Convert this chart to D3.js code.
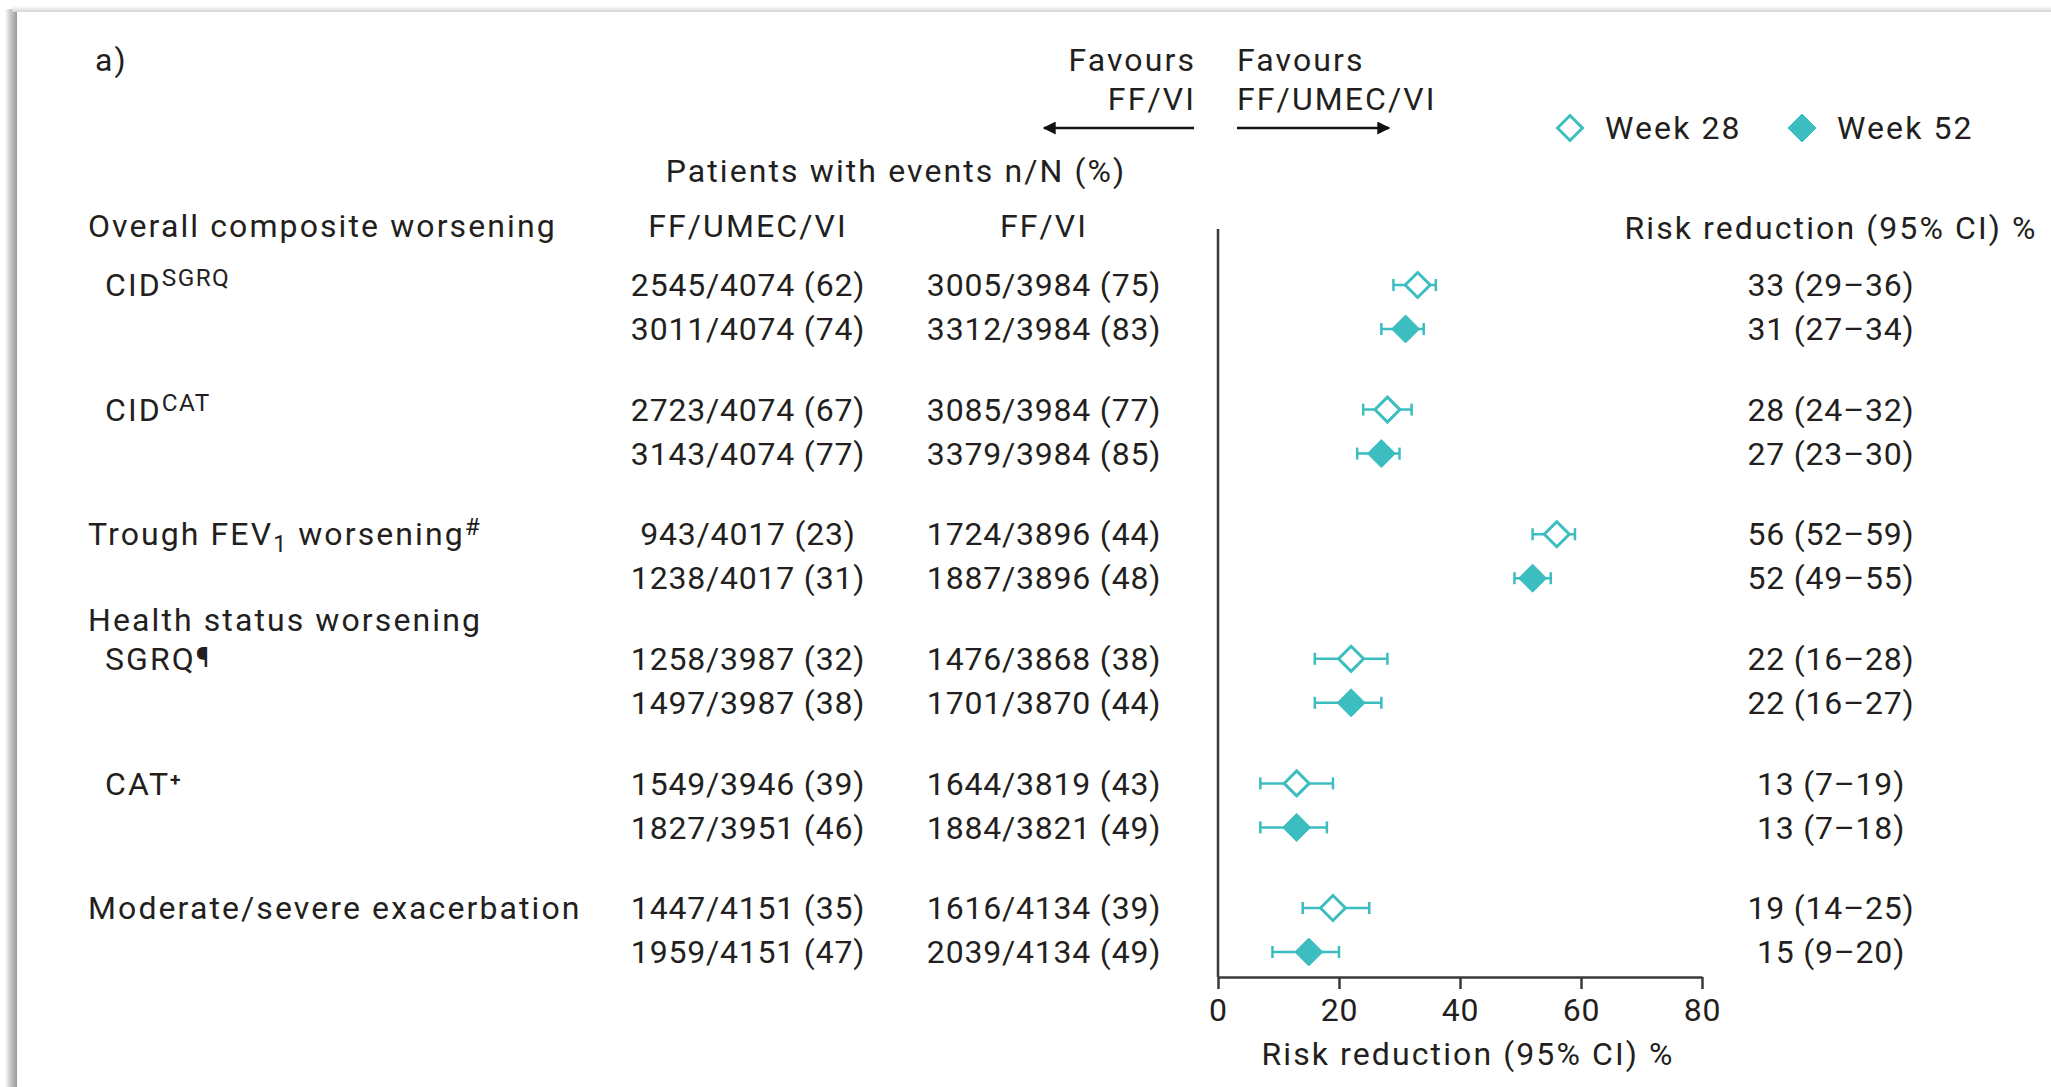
<!DOCTYPE html>
<html><head><meta charset="utf-8">
<script src="https://cdn.jsdelivr.net/npm/d3@7"></script>
<style>html,body{margin:0;padding:0;background:#fff;overflow:hidden}</style>
</head><body>
<svg id="chart" width="2051" height="1087"></svg>
<script>
// ---------------- DATA ----------------
const groups = ["CID_SGRQ", "CID_CAT", "FEV1", "SGRQ", "CAT", "EXAC"];
const weeks = ["Week 28", "Week 52"];
const rowGroup = ["CID_SGRQ","CID_SGRQ","CID_CAT","CID_CAT","FEV1","FEV1","SGRQ","SGRQ","CAT","CAT","EXAC","EXAC"];
const rowWeek  = ["Week 28","Week 52","Week 28","Week 52","Week 28","Week 52","Week 28","Week 52","Week 28","Week 52","Week 28","Week 52"];
const umecEvents = ["2545/4074 (62)","3011/4074 (74)","2723/4074 (67)","3143/4074 (77)","943/4017 (23)","1238/4017 (31)","1258/3987 (32)","1497/3987 (38)","1549/3946 (39)","1827/3951 (46)","1447/4151 (35)","1959/4151 (47)"];
const fvEvents   = ["3005/3984 (75)","3312/3984 (83)","3085/3984 (77)","3379/3984 (85)","1724/3896 (44)","1887/3896 (48)","1476/3868 (38)","1701/3870 (44)","1644/3819 (43)","1884/3821 (49)","1616/4134 (39)","2039/4134 (49)"];
const riskReduction = [33, 31, 28, 27, 56, 52, 22, 22, 13, 13, 19, 15];
const ciLow  = [29, 27, 24, 23, 52, 49, 16, 16, 7, 7, 14, 9];
const ciHigh = [36, 34, 32, 30, 59, 55, 28, 27, 19, 18, 25, 20];
const xTicks = [0, 20, 40, 60, 80];
const groupLabels = [
  [{t:"CID"},{t:"SGRQ", sup:true}],
  [{t:"CID"},{t:"CAT", sup:true}],
  [{t:"Trough FEV"},{t:"1", sub:true},{t:" worsening"},{t:"#", sup:true}],
  [{t:"SGRQ"},{t:"¶", pil:true}],
  [{t:"CAT"},{t:"+", plus:true}],
  [{t:"Moderate/severe exacerbation"}]
];
const groupIndented = [true, true, false, true, true, false];

// ---------------- LAYOUT ----------------
const W = 2051, H = 1087;
const FONT = "Roboto, 'Open Sans', sans-serif";
const FS = 32;
const LS_TEXT = 2.1, LS_NUM = 0.8;
const TEXT = "#231f20";
const TEAL = "#3cbdbf";
const AXIS = "#3a3a3a";
const plotTop = 229, plotBottom = 977;
const weekOffset = 44;
const colUmec = 748, colFv = 1044, colRR = 1831;
const labelX0 = 88, labelX1 = 105;

const svg = d3.select("#chart");
const defs = svg.append("defs");

// frame shadow
const gL = defs.append("linearGradient").attr("id","shL").attr("x1",0).attr("x2",1).attr("y1",0).attr("y2",0);
gL.append("stop").attr("offset",0).attr("stop-color","#fff");
gL.append("stop").attr("offset",0.45).attr("stop-color","#c8c8c8");
gL.append("stop").attr("offset",1).attr("stop-color","#9a9a9a");
const gT = defs.append("linearGradient").attr("id","shT").attr("x1",0).attr("x2",0).attr("y1",0).attr("y2",1);
gT.append("stop").attr("offset",0).attr("stop-color","#fff");
gT.append("stop").attr("offset",1).attr("stop-color","#d4d4d4");
svg.append("rect").attr("x",0).attr("y",0).attr("width",W).attr("height",H).attr("fill","#fff");
svg.append("rect").attr("x",5).attr("y",9).attr("width",12).attr("height",H-9).attr("fill","url(#shL)");
svg.append("rect").attr("x",12).attr("y",6).attr("width",W-12).attr("height",6).attr("fill","url(#shT)");
svg.append("rect").attr("x",17).attr("y",12).attr("width",W-17).attr("height",H-12).attr("fill","#fff");

// scales
const x = d3.scaleLinear().domain([0, 80]).range([1218, 1702]);
const yG = d3.scalePoint().domain(groups).range([285, 908]);
const yRow = i => yG(rowGroup[i]) + (rowWeek[i] === weeks[1] ? weekOffset : 0);

const txt = (xx, yy, s, anchor="start", ls=LS_TEXT) => svg.append("text")
  .attr("x", xx).attr("y", yy).attr("dy","0.35em")
  .attr("text-anchor", anchor).attr("font-family", FONT).attr("font-size", FS)
  .attr("letter-spacing", ls).attr("fill", TEXT).text(s);

// title, favours, legend
txt(95, 60, "a)");
const x0 = x(0);
txt(x0 - 22, 60, "Favours", "end");
txt(x0 - 22, 99, "FF/VI", "end");
txt(x0 + 19, 60, "Favours", "start");
txt(x0 + 19, 99, "FF/UMEC/VI", "start");

defs.append("marker").attr("id","ah").attr("viewBox","0 0 10 10").attr("refX",9).attr("refY",5)
  .attr("markerUnits","userSpaceOnUse").attr("markerWidth",15).attr("markerHeight",13).attr("orient","auto")
  .append("path").attr("d","M0,0 L10,5 L0,10 Z").attr("fill","#111");
svg.append("line").attr("x1", x0 - 24).attr("x2", x0 - 174).attr("y1", 128).attr("y2", 128)
  .attr("stroke","#111").attr("stroke-width",2.5).attr("marker-end","url(#ah)");
svg.append("line").attr("x1", x0 + 19).attr("x2", x0 + 171).attr("y1", 128).attr("y2", 128)
  .attr("stroke","#111").attr("stroke-width",2.5).attr("marker-end","url(#ah)");

const diamond = (cx, cy, r, filled) => svg.append("path")
  .attr("d", `M${cx},${cy-r} L${cx+r},${cy} L${cx},${cy+r} L${cx-r},${cy} Z`)
  .attr("fill", filled ? TEAL : "#fff").attr("stroke", TEAL)
  .attr("stroke-width", filled ? 1 : 3).attr("stroke-linejoin","miter");

const legendX = [1570, 1802];
weeks.forEach((w, i) => {
  diamond(legendX[i], 128, i ? 14 : 12.5, i === 1);
  txt(legendX[i] + 35, 128, w);
});

// headers
txt((colUmec + colFv) / 2, 171, "Patients with events n/N (%)", "middle");
txt(labelX0, 226, "Overall composite worsening");
txt(colUmec, 226, "FF/UMEC/VI", "middle");
txt(colFv, 226, "FF/VI", "middle");
txt(colRR, 228, "Risk reduction (95% CI) %", "middle");

// group labels
groups.forEach((g, gi) => {
  const t = svg.append("text").attr("x", groupIndented[gi] ? labelX1 : labelX0).attr("y", yG(g)).attr("dy","0.35em")
    .attr("font-family", FONT).attr("font-size", FS).attr("letter-spacing", LS_TEXT).attr("fill", TEXT);
  groupLabels[gi].forEach(p => {
    const sp = t.append("tspan").text(p.t);
    if (p.sup) sp.attr("font-size", FS * 0.76).attr("baseline-shift", 10).attr("letter-spacing", 1.4);
    if (p.sub) sp.attr("font-size", FS * 0.72).attr("baseline-shift", -7);
    if (p.pil) sp.attr("font-size", FS * 0.85).attr("baseline-shift", 3);
    if (p.plus) sp.attr("font-size", FS * 0.6).attr("baseline-shift", 9).attr("font-weight", "bold");
  });
});
txt(labelX0, yG("SGRQ") - 39, "Health status worsening");

// columns
const rows = d3.range(riskReduction.length);
rows.forEach(i => {
  txt(colUmec, yRow(i), umecEvents[i], "middle", LS_NUM);
  txt(colFv, yRow(i), fvEvents[i], "middle", LS_NUM);
  txt(colRR, yRow(i), `${riskReduction[i]} (${ciLow[i]}\u2013${ciHigh[i]})`, "middle", LS_NUM);
});

// axes
svg.append("line").attr("x1", x0).attr("x2", x0).attr("y1", plotTop).attr("y2", plotBottom)
  .attr("stroke", AXIS).attr("stroke-width", 2.5);
const ax = svg.append("g").attr("transform", `translate(0,${plotBottom})`)
  .call(d3.axisBottom(x).tickValues(xTicks).tickSize(12).tickSizeOuter(0).tickPadding(9));
ax.select(".domain").attr("stroke", AXIS).attr("stroke-width", 2.5);
ax.selectAll(".tick line").attr("stroke", AXIS).attr("stroke-width", 2.5);
ax.selectAll(".tick text").attr("font-family", FONT).attr("font-size", FS).attr("letter-spacing", LS_NUM).attr("fill", TEXT);
txt((x(0) + x(80)) / 2 + 8, 1054, "Risk reduction (95% CI) %", "middle");

// CI bars & markers
const cap = 6;
rows.forEach(i => {
  const yy = yRow(i);
  const g = svg.append("g").attr("stroke", TEAL).attr("stroke-width", 2.5);
  g.append("line").attr("x1", x(ciLow[i])).attr("x2", x(ciHigh[i])).attr("y1", yy).attr("y2", yy);
  g.append("line").attr("x1", x(ciLow[i])).attr("x2", x(ciLow[i])).attr("y1", yy - cap).attr("y2", yy + cap);
  g.append("line").attr("x1", x(ciHigh[i])).attr("x2", x(ciHigh[i])).attr("y1", yy - cap).attr("y2", yy + cap);
  const filled = rowWeek[i] === weeks[1];
  diamond(x(riskReduction[i]), yy, filled ? 14 : 12.5, filled);
});
</script>
</body></html>
